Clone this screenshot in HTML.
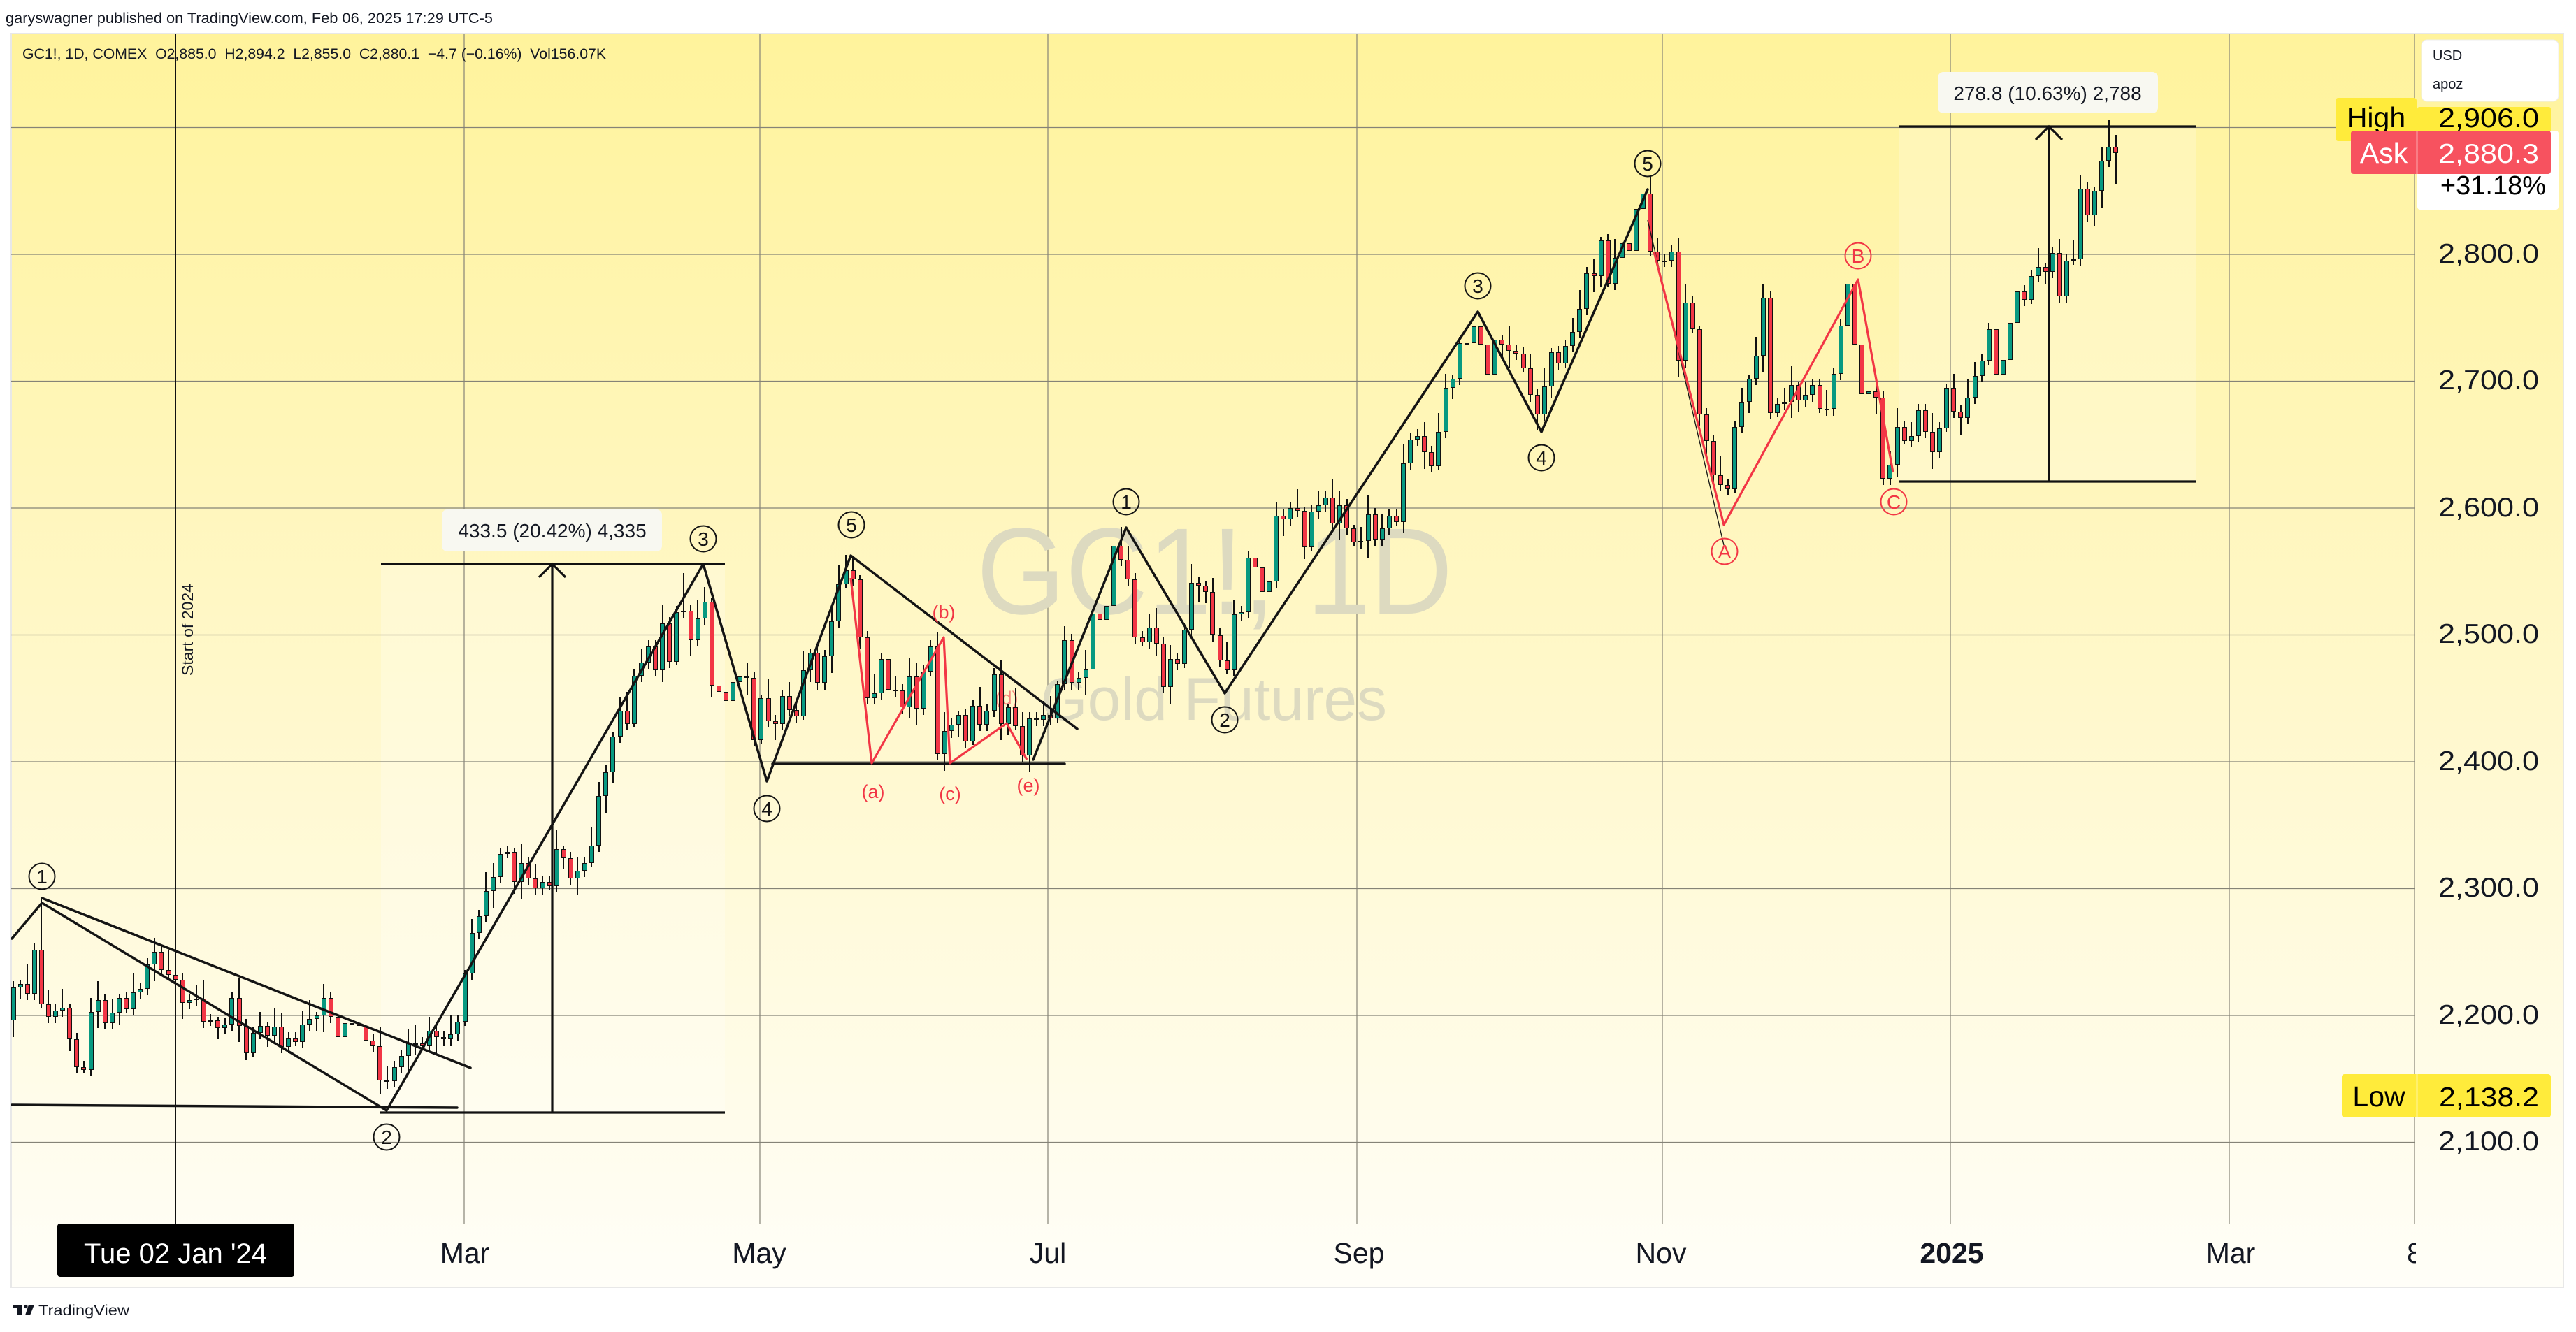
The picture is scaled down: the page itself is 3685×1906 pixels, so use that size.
<!DOCTYPE html>
<html><head><meta charset="utf-8">
<style>
html,body{margin:0;padding:0;background:#fff;}
body{position:relative;width:3685px;height:1906px;overflow:hidden;}
svg{display:block;}
text{font-family:"Liberation Sans",sans-serif;}
.layer{position:absolute;left:0;top:0;}
#cd{position:absolute;left:15.5px;top:0;height:1906px;display:flex;z-index:1;}
#cd i{display:block;position:relative;flex:none;width:10.107px;height:1906px;
 --a:5;--b:5;
 --mx:max(var(--o),var(--c));
 --mn:min(var(--o),var(--c));
 --t:clamp(0, calc((var(--o) - var(--c)) * 1000), 1);}
#cd i:nth-child(3n){--a:11;}
#cd i:nth-child(4n+1){--b:13;}
#cd i:nth-child(7n+2){--a:3;--b:9;}
#cd i:nth-child(5n+3){--a:15;}
#cd i:nth-child(6n+5){--b:3;}
#cd i::before{content:"";position:absolute;left:2.7px;width:1.6px;background:#111;
 top:calc((2800 - var(--mx) - var(--a)) * 1.815px + 364px);
 height:calc((var(--mx) - var(--mn) + var(--a) + var(--b)) * 1.815px);}
#cd i::after{content:"";position:absolute;left:0;width:7px;box-sizing:border-box;border:1px solid #111;
 top:calc((2800 - var(--mx)) * 1.815px + 364px);
 height:max(2px, calc((var(--mx) - var(--mn)) * 1.815px));
 background:rgb(calc(8 + 234 * var(--t)), calc(153 - 99 * var(--t)), calc(129 - 60 * var(--t)));}
</style></head>
<body>
<svg class="layer" style="z-index:0" xmlns="http://www.w3.org/2000/svg" width="3685" height="1906" viewBox="0 0 3685 1906">
<defs>
<linearGradient id="bg" x1="0" y1="0" x2="0" y2="1">
<stop offset="0" stop-color="#FFF39C"/>
<stop offset="0.45" stop-color="#FFF7C4"/>
<stop offset="1" stop-color="#FFFEF8"/>
</linearGradient>
</defs>
<rect width="3685" height="1906" fill="#fff"/>
<rect x="16" y="48" width="3651" height="1794" fill="url(#bg)" stroke="#E8E8E8" stroke-width="2"/>
<rect x="545" y="807" width="492" height="785" fill="#fff" opacity="0.25"/>
<rect x="2717" y="181" width="425" height="508" fill="#fff" opacity="0.22"/>
<g stroke="#858377" stroke-width="1.2">
<line x1="16" y1="182.5" x2="3454" y2="182.5"/>
<line x1="16" y1="364" x2="3454" y2="364"/>
<line x1="16" y1="545.5" x2="3454" y2="545.5"/>
<line x1="16" y1="727" x2="3454" y2="727"/>
<line x1="16" y1="908.5" x2="3454" y2="908.5"/>
<line x1="16" y1="1090" x2="3454" y2="1090"/>
<line x1="16" y1="1271.5" x2="3454" y2="1271.5"/>
<line x1="16" y1="1453" x2="3454" y2="1453"/>
<line x1="16" y1="1634.5" x2="3454" y2="1634.5"/>
<line x1="664" y1="48" x2="664" y2="1751"/>
<line x1="1087" y1="48" x2="1087" y2="1751"/>
<line x1="1499" y1="48" x2="1499" y2="1751"/>
<line x1="1941" y1="48" x2="1941" y2="1751"/>
<line x1="2378" y1="48" x2="2378" y2="1751"/>
<line x1="2790" y1="48" x2="2790" y2="1751"/>
<line x1="3189" y1="48" x2="3189" y2="1751"/>
<line x1="3454" y1="48" x2="3454" y2="1751"/>
</g>
<line x1="251" y1="48" x2="251" y2="1751" stroke="#111" stroke-width="2"/>
<text transform="translate(276,967) rotate(-90)" font-size="22" fill="#131722" textLength="132" lengthAdjust="spacingAndGlyphs">Start of 2024</text>
<text x="1397" y="878" font-size="176" fill="#DDDAC0" textLength="681" lengthAdjust="spacingAndGlyphs">GC1!, 1D</text>
<text x="1489" y="1030" font-size="86" fill="#DDDAC0" textLength="495" lengthAdjust="spacingAndGlyphs">Gold Futures</text>
<text x="1440" y="1008" font-size="27" fill="#F23645" text-anchor="middle" opacity="0.6">(d)</text>
</svg>

<div id="cd">
<i style="--o:2196;--c:2222"></i><i style="--o:2222;--c:2225"></i><i style="--o:2225;--c:2217"></i><i style="--o:2217;--c:2252"></i><i style="--o:2252;--c:2209;--a:41"></i>
<i style="--o:2209;--c:2199"></i><i style="--o:2199;--c:2204"></i><i style="--o:2204;--c:2206"></i><i style="--o:2206;--c:2181"></i><i style="--o:2181;--c:2159"></i>
<i style="--o:2159;--c:2157"></i><i style="--o:2157;--c:2203"></i><i style="--o:2203;--c:2212"></i><i style="--o:2212;--c:2194"></i><i style="--o:2194;--c:2202"></i>
<i style="--o:2202;--c:2214"></i><i style="--o:2214;--c:2205"></i><i style="--o:2205;--c:2218"></i><i style="--o:2218;--c:2221"></i><i style="--o:2221;--c:2240"></i>
<i style="--o:2240;--c:2250"></i><i style="--o:2250;--c:2236"></i><i style="--o:2236;--c:2232"></i><i style="--o:2232;--c:2228"></i><i style="--o:2228;--c:2210"></i>
<i style="--o:2210;--c:2212"></i><i style="--o:2212;--c:2213"></i><i style="--o:2213;--c:2195"></i><i style="--o:2195;--c:2196"></i><i style="--o:2196;--c:2190"></i>
<i style="--o:2190;--c:2193"></i><i style="--o:2193;--c:2214"></i><i style="--o:2214;--c:2192"></i><i style="--o:2192;--c:2170"></i><i style="--o:2170;--c:2186"></i>
<i style="--o:2186;--c:2192"></i><i style="--o:2192;--c:2184"></i><i style="--o:2184;--c:2191"></i><i style="--o:2191;--c:2175"></i><i style="--o:2175;--c:2182"></i>
<i style="--o:2182;--c:2179"></i><i style="--o:2179;--c:2193"></i><i style="--o:2193;--c:2197"></i><i style="--o:2197;--c:2200"></i><i style="--o:2200;--c:2214"></i>
<i style="--o:2214;--c:2199"></i><i style="--o:2199;--c:2183"></i><i style="--o:2183;--c:2194"></i><i style="--o:2194;--c:2194"></i><i style="--o:2194;--c:2192"></i>
<i style="--o:2192;--c:2180"></i><i style="--o:2180;--c:2176"></i><i style="--o:2176;--c:2149;--b:10.8"></i><i style="--o:2149;--c:2148;--b:6"></i><i style="--o:2148;--c:2159;--b:5"></i>
<i style="--o:2159;--c:2168"></i><i style="--o:2168;--c:2178"></i><i style="--o:2178;--c:2178"></i><i style="--o:2178;--c:2176"></i><i style="--o:2176;--c:2188"></i>
<i style="--o:2188;--c:2183"></i><i style="--o:2183;--c:2181"></i><i style="--o:2181;--c:2185"></i><i style="--o:2185;--c:2195"></i><i style="--o:2195;--c:2233"></i>
<i style="--o:2233;--c:2265"></i><i style="--o:2265;--c:2278"></i><i style="--o:2278;--c:2298"></i><i style="--o:2298;--c:2309"></i><i style="--o:2309;--c:2327"></i>
<i style="--o:2327;--c:2329"></i><i style="--o:2329;--c:2305"></i><i style="--o:2305;--c:2320"></i><i style="--o:2320;--c:2308"></i><i style="--o:2308;--c:2300"></i>
<i style="--o:2300;--c:2305"></i><i style="--o:2305;--c:2302"></i><i style="--o:2302;--c:2331"></i><i style="--o:2331;--c:2324"></i><i style="--o:2324;--c:2308"></i>
<i style="--o:2308;--c:2314"></i><i style="--o:2314;--c:2320"></i><i style="--o:2320;--c:2334"></i><i style="--o:2334;--c:2373"></i>
<i style="--o:2373;--c:2392"></i><i style="--o:2392;--c:2420"></i><i style="--o:2420;--c:2440"></i><i style="--o:2440;--c:2430"></i><i style="--o:2430;--c:2468"></i>
<i style="--o:2468;--c:2478"></i><i style="--o:2478;--c:2491"></i><i style="--o:2491;--c:2472"></i><i style="--o:2472;--c:2509"></i><i style="--o:2509;--c:2479"></i>
<i style="--o:2479;--c:2518"></i><i style="--o:2518;--c:2519;--a:30"></i><i style="--o:2519;--c:2496"></i><i style="--o:2496;--c:2513"></i><i style="--o:2513;--c:2526;--a:12"></i>
<i style="--o:2526;--c:2460"></i><i style="--o:2460;--c:2455"></i><i style="--o:2455;--c:2448"></i><i style="--o:2448;--c:2463"></i><i style="--o:2463;--c:2467"></i>
<i style="--o:2467;--c:2466"></i><i style="--o:2466;--c:2417"></i><i style="--o:2417;--c:2450"></i><i style="--o:2450;--c:2432"></i><i style="--o:2432;--c:2430"></i>
<i style="--o:2430;--c:2452"></i><i style="--o:2452;--c:2441"></i><i style="--o:2441;--c:2436"></i><i style="--o:2436;--c:2472"></i><i style="--o:2472;--c:2486"></i>
<i style="--o:2486;--c:2462"></i><i style="--o:2462;--c:2483"></i><i style="--o:2483;--c:2511"></i><i style="--o:2511;--c:2540"></i><i style="--o:2540;--c:2551;--a:12"></i>
<i style="--o:2551;--c:2544"></i><i style="--o:2544;--c:2498"></i><i style="--o:2498;--c:2450"></i><i style="--o:2450;--c:2454"></i><i style="--o:2454;--c:2481"></i>
<i style="--o:2481;--c:2457"></i><i style="--o:2457;--c:2456"></i><i style="--o:2456;--c:2443"></i><i style="--o:2443;--c:2467"></i><i style="--o:2467;--c:2442"></i>
<i style="--o:2442;--c:2471"></i><i style="--o:2471;--c:2491"></i><i style="--o:2491;--c:2406"></i>
<i style="--o:2406;--c:2424"></i><i style="--o:2424;--c:2429"></i><i style="--o:2429;--c:2437"></i><i style="--o:2437;--c:2416"></i><i style="--o:2416;--c:2444"></i>
<i style="--o:2444;--c:2429"></i><i style="--o:2429;--c:2440"></i><i style="--o:2440;--c:2469"></i><i style="--o:2469;--c:2430"></i><i style="--o:2430;--c:2443"></i>
<i style="--o:2443;--c:2428"></i><i style="--o:2428;--c:2405"></i><i style="--o:2405;--c:2434"></i><i style="--o:2434;--c:2433"></i><i style="--o:2433;--c:2437"></i>
<i style="--o:2437;--c:2434"></i><i style="--o:2434;--c:2461"></i><i style="--o:2461;--c:2496"></i><i style="--o:2496;--c:2462"></i><i style="--o:2462;--c:2466"></i>
<i style="--o:2466;--c:2473"></i><i style="--o:2473;--c:2517"></i><i style="--o:2517;--c:2512"></i><i style="--o:2512;--c:2523"></i><i style="--o:2523;--c:2570;--a:3"></i>
<i style="--o:2570;--c:2559"></i><i style="--o:2559;--c:2544"></i><i style="--o:2544;--c:2498"></i><i style="--o:2498;--c:2494"></i><i style="--o:2494;--c:2506"></i>
<i style="--o:2506;--c:2493"></i><i style="--o:2493;--c:2459"></i><i style="--o:2459;--c:2481"></i><i style="--o:2481;--c:2477"></i><i style="--o:2477;--c:2504"></i>
<i style="--o:2504;--c:2541"></i><i style="--o:2541;--c:2539"></i><i style="--o:2539;--c:2534"></i><i style="--o:2534;--c:2500"></i><i style="--o:2500;--c:2480"></i>
<i style="--o:2480;--c:2472"></i><i style="--o:2472;--c:2516"></i><i style="--o:2516;--c:2518"></i><i style="--o:2518;--c:2561"></i><i style="--o:2561;--c:2553"></i>
<i style="--o:2553;--c:2534"></i><i style="--o:2534;--c:2542"></i><i style="--o:2542;--c:2594"></i><i style="--o:2594;--c:2591"></i><i style="--o:2591;--c:2600"></i>
<i style="--o:2600;--c:2598"></i><i style="--o:2598;--c:2569"></i><i style="--o:2569;--c:2597"></i><i style="--o:2597;--c:2602"></i><i style="--o:2602;--c:2608"></i>
<i style="--o:2608;--c:2588"></i><i style="--o:2588;--c:2602"></i><i style="--o:2602;--c:2584"></i><i style="--o:2584;--c:2573"></i><i style="--o:2573;--c:2574"></i>
<i style="--o:2574;--c:2595"></i><i style="--o:2595;--c:2575"></i><i style="--o:2575;--c:2584"></i><i style="--o:2584;--c:2594"></i><i style="--o:2594;--c:2589"></i>
<i style="--o:2589;--c:2635"></i><i style="--o:2635;--c:2654"></i><i style="--o:2654;--c:2657"></i><i style="--o:2657;--c:2644"></i><i style="--o:2644;--c:2633"></i>
<i style="--o:2633;--c:2660"></i><i style="--o:2660;--c:2695"></i><i style="--o:2695;--c:2702"></i><i style="--o:2702;--c:2730"></i><i style="--o:2730;--c:2730"></i>
<i style="--o:2730;--c:2743;--a:4"></i><i style="--o:2743;--c:2729"></i><i style="--o:2729;--c:2705"></i><i style="--o:2705;--c:2733"></i><i style="--o:2733;--c:2729"></i>
<i style="--o:2729;--c:2724"></i><i style="--o:2724;--c:2722"></i><i style="--o:2722;--c:2710"></i><i style="--o:2710;--c:2689"></i><i style="--o:2689;--c:2674"></i>
<i style="--o:2674;--c:2696"></i><i style="--o:2696;--c:2723"></i><i style="--o:2723;--c:2714"></i><i style="--o:2714;--c:2728"></i><i style="--o:2728;--c:2739"></i>
<i style="--o:2739;--c:2757"></i><i style="--o:2757;--c:2785"></i><i style="--o:2785;--c:2783"></i><i style="--o:2783;--c:2811"></i><i style="--o:2811;--c:2777"></i>
<i style="--o:2777;--c:2797"></i><i style="--o:2797;--c:2809"></i><i style="--o:2809;--c:2803"></i><i style="--o:2803;--c:2836"></i><i style="--o:2836;--c:2848;--a:4"></i>
<i style="--o:2848;--c:2802"></i><i style="--o:2802;--c:2795"></i><i style="--o:2795;--c:2795"></i><i style="--o:2795;--c:2802"></i><i style="--o:2802;--c:2716"></i>
<i style="--o:2716;--c:2762"></i><i style="--o:2762;--c:2741"></i><i style="--o:2741;--c:2674"></i><i style="--o:2674;--c:2653"></i><i style="--o:2653;--c:2626"></i>
<i style="--o:2626;--c:2618"></i><i style="--o:2618;--c:2615"></i><i style="--o:2615;--c:2664"></i><i style="--o:2664;--c:2684"></i><i style="--o:2684;--c:2702"></i>
<i style="--o:2702;--c:2720"></i><i style="--o:2720;--c:2766"></i><i style="--o:2766;--c:2675"></i><i style="--o:2675;--c:2682"></i><i style="--o:2682;--c:2684"></i>
<i style="--o:2684;--c:2697"></i><i style="--o:2697;--c:2685"></i><i style="--o:2685;--c:2689"></i><i style="--o:2689;--c:2697"></i><i style="--o:2697;--c:2678"></i>
<i style="--o:2678;--c:2678"></i><i style="--o:2678;--c:2706"></i><i style="--o:2706;--c:2744"></i><i style="--o:2744;--c:2777;--a:6"></i><i style="--o:2777;--c:2729"></i>
<i style="--o:2729;--c:2690"></i><i style="--o:2690;--c:2692"></i><i style="--o:2692;--c:2687"></i><i style="--o:2687;--c:2623"></i><i style="--o:2623;--c:2634"></i>
<i style="--o:2634;--c:2664"></i><i style="--o:2664;--c:2653"></i><i style="--o:2653;--c:2657"></i><i style="--o:2657;--c:2677"></i><i style="--o:2677;--c:2660"></i>
<i style="--o:2660;--c:2644"></i><i style="--o:2644;--c:2663"></i><i style="--o:2663;--c:2695"></i><i style="--o:2695;--c:2676"></i><i style="--o:2676;--c:2671"></i>
<i style="--o:2671;--c:2687"></i><i style="--o:2687;--c:2704"></i><i style="--o:2704;--c:2716"></i><i style="--o:2716;--c:2741"></i><i style="--o:2741;--c:2705"></i>
<i style="--o:2705;--c:2717"></i><i style="--o:2717;--c:2746"></i><i style="--o:2746;--c:2771"></i><i style="--o:2771;--c:2764"></i><i style="--o:2764;--c:2783"></i>
<i style="--o:2783;--c:2790"></i><i style="--o:2790;--c:2786"></i><i style="--o:2786;--c:2801"></i><i style="--o:2801;--c:2767"></i><i style="--o:2767;--c:2795"></i>
<i style="--o:2795;--c:2796"></i><i style="--o:2796;--c:2852"></i><i style="--o:2852;--c:2831"></i><i style="--o:2831;--c:2850"></i><i style="--o:2850;--c:2874"></i>
<i style="--o:2874;--c:2885;--a:21"></i><i style="--o:2885;--c:2880.1;--a:9.2;--b:25.1"></i>
</div>

<svg class="layer" style="z-index:2" xmlns="http://www.w3.org/2000/svg" width="3685" height="1906" viewBox="0 0 3685 1906">
<defs>
<clipPath id="plot"><rect x="16" y="48" width="3438" height="1703"/></clipPath>
<clipPath id="eight"><rect x="3400" y="1751" width="56" height="90"/></clipPath>
</defs>
<g clip-path="url(#plot)">
<g stroke="#141414" stroke-width="3.5" fill="none" stroke-linecap="round" stroke-linejoin="round">
<polyline points="17,1343 60,1292 553,1589 1006,807 1097,1118 1217,795 1541,1043"/>
<line x1="60" y1="1285" x2="673" y2="1528"/>
<line x1="17" y1="1581" x2="654" y2="1585"/>
<line x1="1105" y1="1093" x2="1523" y2="1093"/>
<polyline points="1478,1087 1611,755 1752,992 2114,446 2205,618 2357,271"/>
</g>
<line x1="2357" y1="315" x2="2466" y2="780" stroke="#141414" stroke-width="1.3"/>
<g stroke="#F23645" stroke-width="3.2" fill="none" stroke-linejoin="round">
<polyline points="1217,827 1247,1092 1350,912 1359,1092 1440,1035 1469,1087"/>
<polyline points="2366,360 2466,751 2658,400 2708,676"/>
</g>
<g stroke="#111" stroke-width="3.2" fill="none">
<line x1="545" y1="807" x2="1037" y2="807"/>
<line x1="543" y1="1592" x2="1037" y2="1592"/>
<line x1="790" y1="1592" x2="790" y2="808"/>
<polyline points="771,826 790,807 809,826"/>
<line x1="2717" y1="181" x2="3142" y2="181"/>
<line x1="2717" y1="689" x2="3142" y2="689"/>
<line x1="2931" y1="689" x2="2931" y2="182"/>
<polyline points="2912,200 2931,181 2950,200"/>
</g>
<rect x="632" y="729" width="315" height="60" rx="8" fill="#F8F8F1"/>
<text x="790" y="769" font-size="28" fill="#131722" text-anchor="middle">433.5 (20.42%) 4,335</text>
<rect x="2772" y="103" width="315" height="59" rx="8" fill="#F8F8F1"/>
<text x="2929" y="143" font-size="28" fill="#131722" text-anchor="middle">278.8 (10.63%) 2,788</text>
<g fill="none" stroke="#141414" stroke-width="2">
<circle cx="60" cy="1254" r="18.5"/><circle cx="553" cy="1627" r="18.5"/>
<circle cx="1006" cy="771" r="18.5"/><circle cx="1097" cy="1157" r="18.5"/>
<circle cx="1218" cy="751" r="18.5"/><circle cx="1611" cy="718" r="18.5"/>
<circle cx="1752" cy="1030" r="18.5"/><circle cx="2114" cy="409" r="18.5"/>
<circle cx="2205" cy="655" r="18.5"/><circle cx="2357" cy="234" r="18.5"/>
</g>
<g font-size="28" fill="#141414" text-anchor="middle">
<text x="60" y="1264">1</text><text x="553" y="1637">2</text>
<text x="1006" y="781">3</text><text x="1097" y="1167">4</text>
<text x="1218" y="761">5</text><text x="1611" y="728">1</text>
<text x="1752" y="1040">2</text><text x="2114" y="419">3</text>
<text x="2205" y="665">4</text><text x="2357" y="244">5</text>
</g>
<g fill="none" stroke="#F23645" stroke-width="2">
<circle cx="2467" cy="789" r="18.5"/><circle cx="2658" cy="366" r="18.5"/><circle cx="2709" cy="718" r="18.5"/>
</g>
<g font-size="28" fill="#F23645" text-anchor="middle">
<text x="2467" y="799">A</text><text x="2658" y="376">B</text><text x="2709" y="728">C</text>
</g>
<g font-size="27" fill="#F23645" text-anchor="middle">
<text x="1249" y="1142">(a)</text><text x="1350" y="885">(b)</text>
<text x="1359" y="1145">(c)</text><text x="1471" y="1133">(e)</text>
</g>
</g>

<g font-size="39" fill="#131722" text-anchor="end">
<text x="3632" y="376" textLength="144" lengthAdjust="spacingAndGlyphs">2,800.0</text>
<text x="3632" y="557" textLength="144" lengthAdjust="spacingAndGlyphs">2,700.0</text>
<text x="3632" y="739" textLength="144" lengthAdjust="spacingAndGlyphs">2,600.0</text>
<text x="3632" y="920" textLength="144" lengthAdjust="spacingAndGlyphs">2,500.0</text>
<text x="3632" y="1102" textLength="144" lengthAdjust="spacingAndGlyphs">2,400.0</text>
<text x="3632" y="1283" textLength="144" lengthAdjust="spacingAndGlyphs">2,300.0</text>
<text x="3632" y="1465" textLength="144" lengthAdjust="spacingAndGlyphs">2,200.0</text>
<text x="3632" y="1646" textLength="144" lengthAdjust="spacingAndGlyphs">2,100.0</text>
</g>
<rect x="3464" y="57" width="196" height="88" rx="8" fill="#fff" stroke="#eee" stroke-width="1"/>
<text x="3480" y="86" font-size="20" fill="#131722">USD</text>
<text x="3480" y="127" font-size="20" fill="#131722">apoz</text>
<rect x="3341" y="140" width="116" height="62" rx="4" fill="#FFEB3B"/>
<rect x="3458" y="153" width="191" height="40" rx="3" fill="#FFEB3B"/>
<text x="3399" y="182" font-size="41" fill="#000" text-anchor="middle">High</text>
<text x="3632" y="182" font-size="39" fill="#000" text-anchor="end" textLength="144" lengthAdjust="spacingAndGlyphs">2,906.0</text>
<rect x="3458" y="187" width="202" height="113" rx="4" fill="#fff"/>
<text x="3642" y="278" font-size="38" fill="#000" text-anchor="end">+31.18%</text>
<rect x="3363" y="187" width="286" height="62" rx="4" fill="#F7525F"/>
<line x1="3457.5" y1="187" x2="3457.5" y2="249" stroke="#fff" stroke-width="1.5"/>
<text x="3410" y="233" font-size="41" fill="#fff" text-anchor="middle">Ask</text>
<text x="3632" y="233" font-size="39" fill="#fff" text-anchor="end" textLength="144" lengthAdjust="spacingAndGlyphs">2,880.3</text>
<rect x="3350" y="1537" width="299" height="62" rx="4" fill="#FFEB3B"/>
<line x1="3457.5" y1="1537" x2="3457.5" y2="1599" stroke="#fff" stroke-width="1.5"/>
<text x="3403" y="1583" font-size="41" fill="#000" text-anchor="middle">Low</text>
<text x="3632" y="1583" font-size="39" fill="#000" text-anchor="end" textLength="143" lengthAdjust="spacingAndGlyphs">2,138.2</text>

<g font-size="41" fill="#131722" text-anchor="middle">
<text x="665" y="1807">Mar</text>
<text x="1086" y="1807">May</text>
<text x="1499" y="1807">Jul</text>
<text x="1944" y="1807">Sep</text>
<text x="2376" y="1807">Nov</text>
<text x="2792" y="1807" font-weight="bold">2025</text>
<text x="3191" y="1807">Mar</text>
</g>
<text x="3443" y="1807" font-size="41" fill="#131722" clip-path="url(#eight)">8</text>
<rect x="82" y="1751" width="339" height="76" rx="4" fill="#000"/>
<text x="251" y="1807" font-size="40" fill="#fff" text-anchor="middle">Tue 02 Jan '24</text>

<text x="8" y="33" font-size="21" fill="#131722" textLength="697" lengthAdjust="spacingAndGlyphs">garyswagner published on TradingView.com, Feb 06, 2025 17:29 UTC-5</text>
<text x="32" y="84" font-size="21" fill="#131722" textLength="835" lengthAdjust="spacingAndGlyphs" style="white-space:pre">GC1!, 1D, COMEX  O2,885.0  H2,894.2  L2,855.0  C2,880.1  −4.7 (−0.16%)  Vol156.07K</text>

<g fill="#131722">
<rect x="19" y="1867" width="13" height="5"/>
<rect x="25" y="1867" width="6" height="15"/>
<circle cx="37" cy="1869.5" r="2.6"/>
<polygon points="41,1867 49,1867 43,1882 36,1882"/>
</g>
<text x="55" y="1882" font-size="21" fill="#131722" textLength="130" lengthAdjust="spacingAndGlyphs">TradingView</text>
</svg>
</body></html>
